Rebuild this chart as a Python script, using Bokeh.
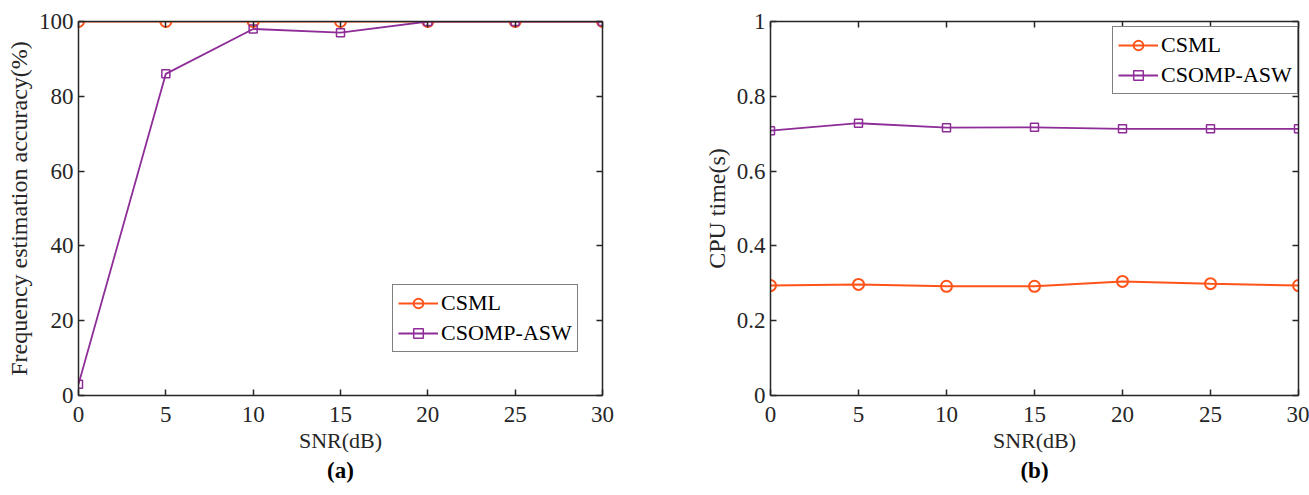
from bokeh.plotting import figure
from bokeh.layouts import row
from bokeh.models import (LinearAxis, FixedTicker, Legend, LegendItem, Title,
                          Range1d, CustomJSTickFormatter)
from bokeh.embed import file_html
from bokeh.resources import INLINE

# ---------------- data ----------------
snr = [0, 5, 10, 15, 20, 25, 30]
acc_csml = [100, 100, 100, 100, 100, 100, 100]
acc_csomp = [3, 86, 98, 97, 100, 100, 100]
cpu_csml = [0.294, 0.297, 0.292, 0.292, 0.305, 0.299, 0.294]
cpu_csomp = [0.708, 0.728, 0.716, 0.717, 0.713, 0.713, 0.713]
x_ticks = [0, 5, 10, 15, 20, 25, 30]
acc_ticks = [0, 20, 40, 60, 80, 100]
cpu_ticks = [0, 0.2, 0.4, 0.6, 0.8, 1.0]
series_names = ["CSML", "CSOMP-ASW"]

FONT = "Liberation Serif"
AX = "#262626"
ORANGE = "#FF531A"
PURPLE = "#8E2C98"

fmt_num = CustomJSTickFormatter(code="return String(+tick.toFixed(2));")


def style_axis(ax, ticks, labels=True):
    ax.ticker = FixedTicker(ticks=ticks)
    ax.axis_line_color = AX
    ax.axis_line_width = 1.5
    ax.major_tick_line_color = AX
    ax.major_tick_line_width = 1.5
    ax.major_tick_in = 6
    ax.major_tick_out = 0
    ax.minor_tick_line_color = None
    ax.major_label_text_font = FONT
    ax.major_label_text_font_size = "23px"
    ax.major_label_text_color = AX
    ax.axis_label_text_font = FONT
    ax.axis_label_text_font_size = "22px"
    ax.axis_label_text_font_style = "normal"
    ax.axis_label_text_color = AX
    if labels:
        ax.formatter = fmt_num
        ax.major_label_standoff = 5
    else:
        ax.formatter = CustomJSTickFormatter(code="return '';")
        ax.major_label_standoff = 0


def panel(width, bl, br, ylabel, yr, yticks, y1, y2, leg_loc, sub):
    p = figure(width=width, height=495, output_backend="svg", toolbar_location=None,
               x_range=Range1d(0, 30), y_range=Range1d(*yr),
               min_border_left=bl, min_border_right=br,
               min_border_top=21, min_border_bottom=100)
    p.grid.grid_line_color = None
    p.outline_line_color = None
    p.background_fill_color = "white"
    p.border_fill_color = "white"

    style_axis(p.xaxis[0], x_ticks)
    style_axis(p.yaxis[0], yticks)
    p.xaxis[0].axis_label = "SNR(dB)"
    p.xaxis[0].major_label_standoff = 11
    p.xaxis[0].axis_label_standoff = 3
    p.yaxis[0].axis_label = ylabel
    p.yaxis[0].axis_label_text_font_size = "24px"
    p.yaxis[0].axis_label_standoff = 4

    top = LinearAxis()
    style_axis(top, x_ticks, labels=False)
    p.add_layout(top, "above")
    right = LinearAxis()
    style_axis(right, yticks, labels=False)
    p.add_layout(right, "right")

    l1 = p.line(snr, y1, line_color=ORANGE, line_width=2)
    m1 = p.scatter(snr, y1, marker="circle", size=11, fill_color=None,
                   line_color=ORANGE, line_width=2)
    l2 = p.line(snr, y2, line_color=PURPLE, line_width=1.8)
    m2 = p.scatter(snr, y2, marker="square", size=8, fill_color=None,
                   line_color=PURPLE, line_width=1.5)

    leg = Legend(items=[LegendItem(label=series_names[0], renderers=[l1, m1]),
                        LegendItem(label=series_names[1], renderers=[l2, m2])],
                 location=leg_loc)
    leg.border_line_color = "black"
    leg.border_line_width = 1.5
    leg.background_fill_color = "white"
    leg.background_fill_alpha = 1
    leg.label_text_font = FONT
    leg.label_text_font_size = "22px"
    leg.label_text_color = "black"
    leg.glyph_width = 40
    leg.glyph_height = 24
    leg.label_height = 24
    leg.spacing = 4
    leg.padding = 5
    leg.margin = 0
    leg.label_standoff = 3
    p.add_layout(leg, "center")

    t = Title(text=sub, align="center", text_font=FONT, text_font_size="23px",
              text_font_style="bold", text_color="black", standoff=0)
    p.add_layout(t, "below")
    return p


pa = panel(654, 78, 52, "Frequency estimation accuracy(%)", (0, 100), acc_ticks,
           acc_csml, acc_csomp, (314, 43), "(a)")
pb = panel(655, 116, 11, "CPU time(s)", (0, 1), cpu_ticks,
           cpu_csml, cpu_csomp, (342, 301), "(b)")

layout = row(pa, pb)
open("out.html", "w").write(file_html(layout, INLINE))
